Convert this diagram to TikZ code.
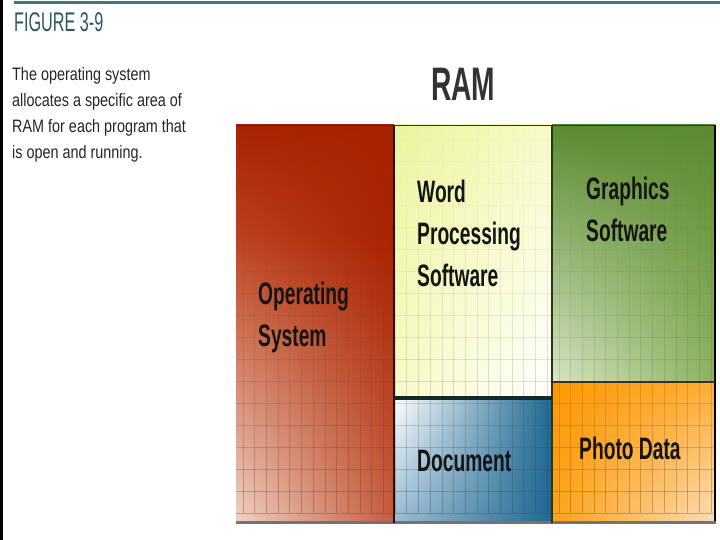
\documentclass[tikz,border=0pt]{standalone}
\usepackage{fontspec}
\usetikzlibrary{shadings}
\newfontfamily\labelfont{Liberation Sans}[FakeStretch=0.62]
\newfontfamily\capfont{Liberation Sans}[FakeStretch=0.8]
\newfontfamily\headfont{Liberation Sans}[FakeStretch=0.6]

\definecolor{teal}{RGB}{44,88,98}
\definecolor{osred}{RGB}{168,34,0}
\definecolor{osupper}{RGB}{188,66,30}
\definecolor{osmid}{RGB}{200,92,60}
\definecolor{ospeach}{RGB}{240,210,194}
\definecolor{wpyellow}{RGB}{236,244,158}
\definecolor{wplight}{RGB}{248,250,200}
\definecolor{docblue}{RGB}{30,104,146}
\definecolor{doclight}{RGB}{150,186,210}
\definecolor{gfxgreen}{RGB}{92,138,48}
\definecolor{gfxlight}{RGB}{214,230,196}
\definecolor{gfxmid}{RGB}{140,178,96}
\definecolor{photoorange}{RGB}{255,152,0}
\definecolor{photolight}{RGB}{252,222,184}

\tikzset{
  blocklabel/.style={anchor=north west, inner sep=0pt, align=left, text=black!92,
    font=\labelfont\bfseries\fontsize{31}{42}\selectfont},
  gridline/.style={black!75, line width=0.8pt},
  divider/.style={line width=#1},
}

\begin{document}
\begin{tikzpicture}[x=1pt,y=-1pt]
  \useasboundingbox[fill=white] (0,0) rectangle (720,540);
  % Rand
  \fill[black] (0,0) rectangle (3,540);
  \draw[teal!85, line width=2.5pt] (14,2.5) -- (720,2.5);
  % Titel und Text
  \node[anchor=north west, inner sep=0pt, text=teal, font=\headfont\fontsize{27}{30}\selectfont]
    (fig) at (14,12) {FIGURE 3-9};
  \node[anchor=north west, inner sep=0pt, align=left, text=black!85,
        font=\capfont\fontsize{18}{26}\selectfont]
    (cap) at (12,67) {The operating system\\allocates a specific area of\\RAM for each program that\\is open and running.};
  \node[anchor=north west, inner sep=0pt, text=black!80, font=\headfont\bfseries\fontsize{47}{50}\selectfont]
    (ram) at (431,68) {RAM};
  % Bereiche im RAM
  \shade[upper left=osred, upper right=osred, lower left=osupper, lower right=osred]
    (236,125) rectangle (394,235);
  \shade[upper left=osupper, upper right=osred, lower left=ospeach, lower right=osmid]
    (236,235) rectangle (394,523);
  \shade[upper left=wpyellow, upper right=wplight, lower left=wplight, lower right=white]
    (394,125) rectangle (552,398);
  \shade[upper left=white, upper right=docblue, lower left=doclight, lower right=docblue]
    (394,398) rectangle (552,523);
  \shade[upper left=gfxgreen, upper right=gfxgreen, lower left=gfxlight, lower right=gfxmid]
    (552,125) rectangle (715,382);
  \shade[upper left=photoorange, upper right=photoorange!80!white, lower left=photoorange!90!white, lower right=photolight]
    (552,382) rectangle (715,523);
  % Gitter
  \begin{scope}
    \clip (236,125) rectangle (715,523);
    \foreach \r in {0,...,17} {
      \pgfmathsetmacro\op{0.02+0.3*(\r/17)^1.8}
      \draw[gridline, draw opacity=\op] (236,139+22*\r) -- (715,139+22*\r);
      \foreach \c in {0,...,40}
        \draw[gridline, draw opacity=\op] (243+11.7*\c,117+22*\r) -- ++(0,22);
    }
  \end{scope}
  % Trennlinien
  \draw[black!80, divider=1.5pt] (236,125.5) -- (715,125.5);
  \draw[black, divider=2pt] (715,125) -- (715,523);
  \draw[black!55, divider=3pt] (236,522) -- (716,522);
  \draw[black!70!osred, divider=2pt] (394,125) -- (394,523);
  \draw[black!60!gfxgreen, divider=2pt] (552,125) -- (552,523);
  \draw[black!55!teal, divider=4pt] (394,398) -- (552,398);
  \draw[black!80, divider=2pt] (552,382) -- (715,382);
  % Beschriftungen
  \node[blocklabel] (oslabel) at (258,282) {Operating\\System};
  \node[blocklabel] (wplabel) at (417,180) {Word\\Processing\\Software};
  \node[blocklabel] (gfxlabel) at (586,177) {Graphics\\Software};
  \node[blocklabel] (doclabel) at (417,450) {Document};
  \node[blocklabel] (photolabel) at (579,437) {Photo Data};
\end{tikzpicture}
\end{document}
